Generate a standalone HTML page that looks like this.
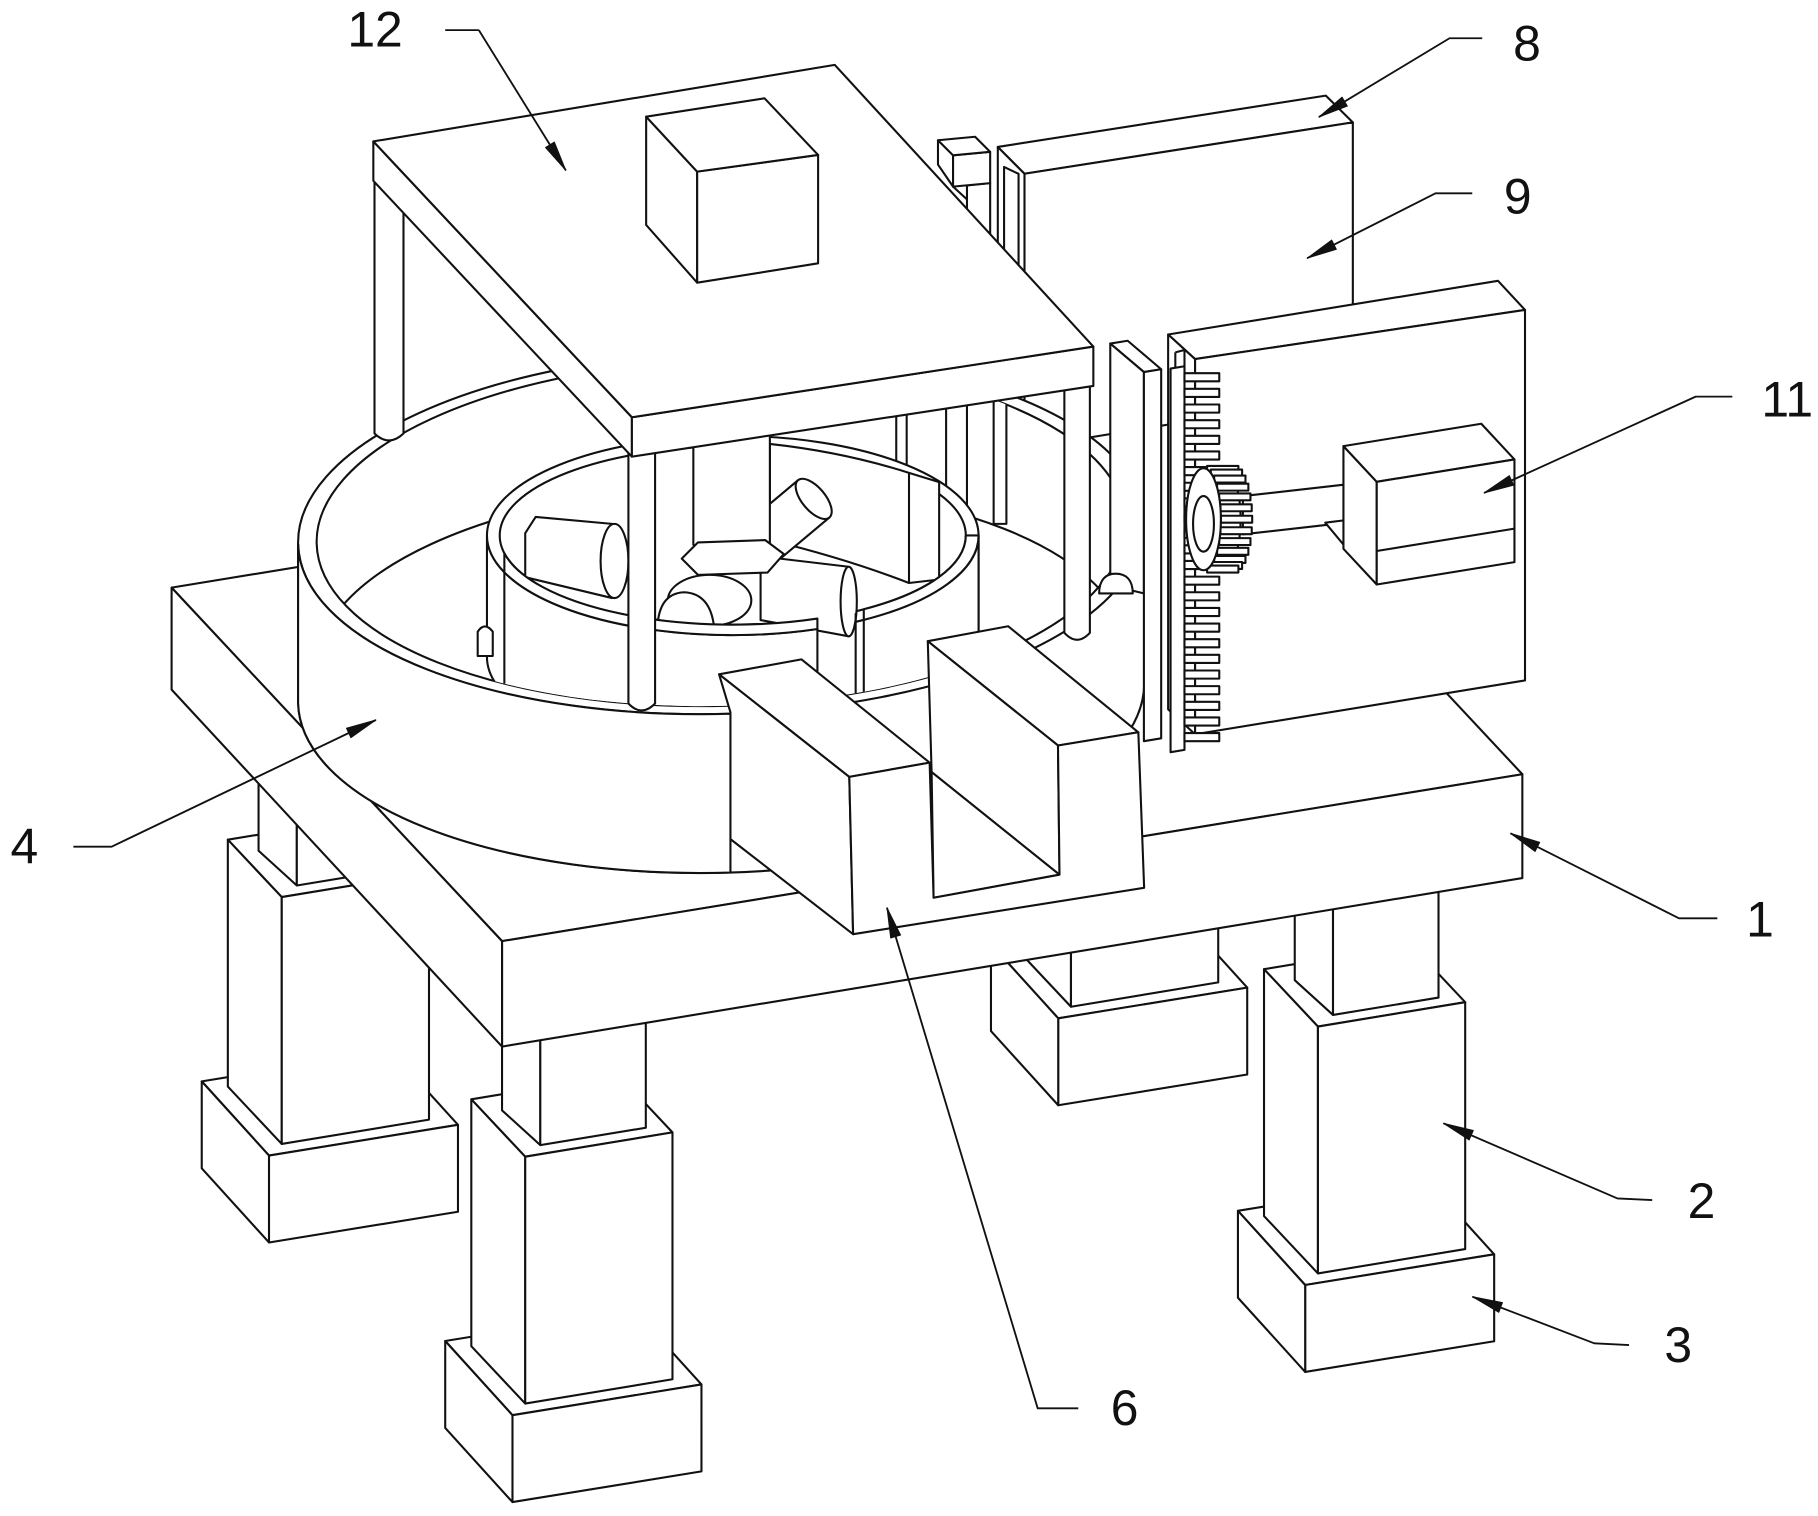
<!DOCTYPE html>
<html><head><meta charset="utf-8"><style>
html,body{margin:0;padding:0;background:#fff;}
svg{display:block;}
text{font-family:"Liberation Sans",Arial,sans-serif;font-size:43px;fill:#111;}
</style></head><body>
<svg xmlns="http://www.w3.org/2000/svg" width="1818" height="1516" viewBox="0 0 1568 1308" preserveAspectRatio="none">
<defs>
<clipPath id="ci"><ellipse cx="622" cy="460" rx="349" ry="149" transform="rotate(-1.5 622 460)"/></clipPath>
<g id="leg">
<polygon points="-69,159 94,132.5 152,196.5 -11,223"/>
<polygon points="-11,223 152,196.5 152,271.5 -11,298"/>
<polygon points="-69,159 -11,223 -11,298 -69,234"/>
<polygon points="-46.5,-49.5 80.5,-70.5 127,-21 0,0"/>
<polygon points="-46.5,-49.5 0,0 0,213 -46.5,163.5"/>
<polygon points="0,0 127,-21 127,192 0,213"/>
<polygon points="-20,-170 13,-140 13,-10 -20,-40"/>
<polygon points="13,-140 104,-155 104,-25 13,-10"/>
</g>
</defs>
<rect x="0" y="0" width="1568" height="1308" fill="#fff"/>
<g fill="#fff" stroke="#111" stroke-width="1.8" stroke-linejoin="round">

<!-- Panel 8/9 -->
<polygon points="860.6,126.8 1143.5,82.5 1166.8,105.6 883.6,149.9"/>
<polygon points="883.6,149.9 1166.8,105.6 1166.8,405 883.6,450"/>
<polygon points="860.6,126.8 883.6,149.9 883.6,450 860.6,427"/>
<polyline points="866,260 866,144 878.5,150 878.5,260" fill="none"/>
<!-- bracket -->
<polygon points="834,160 854,158 854,240 834,240"/>
<polygon points="809,121 822,134 822,161 809,142"/>
<polygon points="822,134 854,131 854,158 822,161"/>
<polygon points="809,121 841,118 854,131 822,134"/>
<line x1="822" y1="161" x2="834" y2="172"/>

<!-- Legs -->
<use href="#leg" transform="translate(243,774)"/>
<use href="#leg" transform="translate(923.7,655.6)"/>
<use href="#leg" transform="translate(453,998)"/>
<use href="#leg" transform="translate(1136.7,885.7)"/>

<!-- Platform 1 -->
<polygon points="148,507 1028,363 1313,668 433,812"/>
<polygon points="433,812 1313,668 1313,757.6 433,903"/>
<polygon points="148,507 433,812 433,903 148,595"/>

<!-- Panel 11 -->
<polygon points="1007.5,288.6 1292,242.3 1315.3,267.4 1030.7,309.8"/>
<polygon points="1030.7,309.8 1315.3,267.4 1315.3,587.1 1030.7,633.5"/>
<polygon points="1007.5,288.6 1030.7,309.8 1030.7,633.5 1007.5,612"/>
<line x1="1013.7" y1="304" x2="1013.7" y2="640"/>
<polyline points="1013.7,304 1021.6,302 1021.6,322" fill="none"/>

<!-- Ring 4 first pass -->
<ellipse cx="622" cy="597" rx="365" ry="156" transform="rotate(-1.5 622 597)"/>
<polygon points="257.1,469.6 986.9,450.4 986.9,587.4 257.1,606.6" stroke="none"/>
<ellipse cx="622" cy="460" rx="365" ry="156" transform="rotate(-1.5 622 460)"/>
<line x1="257.1" y1="469.6" x2="257.1" y2="606.6"/>
<line x1="986.9" y1="450.4" x2="986.9" y2="587.4"/>
<ellipse cx="622" cy="460" rx="349" ry="149" transform="rotate(-1.5 622 460)"/>

<!-- Inner assembly -->
<g clip-path="url(#ci)">
<ellipse cx="622" cy="568" rx="349" ry="149" transform="rotate(-1.5 622 568)" fill="none"/>
<rect x="773" y="340" width="9" height="112"/>
<rect x="816" y="340" width="18" height="112"/>
<rect x="857" y="340" width="11" height="112"/>
<path d="M420,462 A212,86 0 0 0 844,462 L844,567 A212,86 0 0 1 420,567 Z"/>
<ellipse cx="632" cy="462" rx="212" ry="86"/>
<ellipse cx="632" cy="462" rx="201" ry="77"/>
<path d="M664,383 Q728,390 784,408 L810,416 L810,500 L784,503 Q730,482 664,466 Z"/>
<line x1="784" y1="408" x2="784" y2="503"/>
<path d="M462,446 L528,452 L528,516 L453,498 L453,460 Z"/>
<ellipse cx="530" cy="484" rx="12" ry="32"/>
<g transform="translate(688,442) rotate(-40)"><rect x="-44" y="-21" width="62" height="42"/><ellipse cx="18" cy="0" rx="10" ry="21"/></g>
<path d="M656,480 L732,489 L732,549 L656,535 Z"/>
<ellipse cx="732" cy="519" rx="7" ry="30"/>
<path d="M598,370 L598,470 Q631,490 664,470 L664,370 Z"/>
<polygon points="588,482 602,468 660,466 676,478 662,494 602,496"/>
<ellipse cx="612" cy="518" rx="36" ry="22"/>
<path d="M567,542 Q568,512 590,511 Q613,512 616,542 Z"/>
<path d="M435,493.8 A212,86 0 0 0 705,542.7 L705,660 L435,610 Z"/>
<path d="M435,477.3 A201,77 0 0 0 705,533.7 L705,542.7 A212,86 0 0 1 435,493.8 Z"/>
<path d="M745,534.8 A212,86 0 0 0 844,462 L844,567 A212,86 0 0 1 745,639.8 Z"/>
<path d="M745,525.7 A201,77 0 0 0 833,462 L844,462 A212,86 0 0 1 745,534.8 Z"/>
<line x1="738" y1="529" x2="738" y2="620"/>
<path d="M412,566 L412,545 Q418,536 425,545 L425,566 Z"/>
</g>

<!-- Rack column and dome -->
<polygon points="957.6,296.4 972.6,294 1001.5,318.6 986.6,321"/>
<polygon points="957.6,296.4 986.6,321 986.6,512 957.6,505"/>
<polygon points="986.6,321 1001.5,318.6 1001.5,637 986.6,639.5"/>
<path d="M948,512 C948,500 954,495 962,495 C971,495 977,500 977,512 Z"/>

<!-- Rack -->
<polygon points="1009.6,318 1021.6,316 1021.6,647 1009.6,649"/>
<g>
<rect x="1021.6" y="322" width="30" height="7"/><rect x="1021.6" y="335.5" width="30" height="7"/>
<rect x="1021.6" y="349" width="30" height="7"/><rect x="1021.6" y="362.5" width="30" height="7"/>
<rect x="1021.6" y="376" width="30" height="7"/><rect x="1021.6" y="389.5" width="30" height="7"/>
<rect x="1021.6" y="403" width="30" height="7"/><rect x="1021.6" y="416.5" width="30" height="7"/>
<rect x="1021.6" y="430" width="30" height="7"/><rect x="1021.6" y="443.5" width="30" height="7"/>
<rect x="1021.6" y="457" width="30" height="7"/><rect x="1021.6" y="470.5" width="30" height="7"/>
<rect x="1021.6" y="484" width="30" height="7"/><rect x="1021.6" y="497.5" width="30" height="7"/>
<rect x="1021.6" y="511" width="30" height="7"/><rect x="1021.6" y="524.5" width="30" height="7"/>
<rect x="1021.6" y="538" width="30" height="7"/><rect x="1021.6" y="551.5" width="30" height="7"/>
<rect x="1021.6" y="565" width="30" height="7"/><rect x="1021.6" y="578.5" width="30" height="7"/>
<rect x="1021.6" y="592" width="30" height="7"/><rect x="1021.6" y="605.5" width="30" height="7"/>
<rect x="1021.6" y="619" width="30" height="7"/><rect x="1021.6" y="632.5" width="30" height="7"/>
</g>

<!-- Shaft, collar -->
<polygon points="1072,428 1161,418 1161,451 1072,461"/>
<polygon points="1161,416 1172,415 1172,453 1161,452"/>
<ellipse cx="1172" cy="434" rx="6" ry="19"/>

<!-- Gear -->
<ellipse cx="1055" cy="448" rx="15" ry="44"/>
<rect x="1041.1" y="402" width="27" height="6"/>
<rect x="1044.3" y="405.1" width="27" height="6"/>
<rect x="1047.2" y="410.3" width="27" height="6"/>
<rect x="1049.7" y="417.3" width="27" height="6"/>
<rect x="1051.5" y="425.7" width="27" height="6"/>
<rect x="1052.6" y="435.1" width="27" height="6"/>
<rect x="1053" y="445" width="27" height="6"/>
<rect x="1052.6" y="454.9" width="27" height="6"/>
<rect x="1051.5" y="464.3" width="27" height="6"/>
<rect x="1049.7" y="472.7" width="27" height="6"/>
<rect x="1047.2" y="479.7" width="27" height="6"/>
<rect x="1044.3" y="484.9" width="27" height="6"/>
<rect x="1041.1" y="488" width="27" height="6"/>
<ellipse cx="1038" cy="448" rx="15" ry="44"/>
<ellipse cx="1038" cy="452" rx="9" ry="24"/>

<!-- Motor 11 -->
<polygon points="1143,451 1159,449 1187.4,475.4 1187.4,504.3"/>
<polygon points="1158.7,384.9 1187.4,415.7 1187.4,504.3 1158.7,473.5"/>
<polygon points="1158.7,384.9 1277.6,365.6 1306.2,396.4 1187.4,415.7"/>
<polygon points="1187.4,415.7 1306.2,396.4 1306.2,485 1187.4,504.3"/>
<line x1="1187.4" y1="475.4" x2="1306.2" y2="456.1"/>

<!-- Block 6 -->
<polygon points="800.2,553.2 869.5,540.3 981.8,631.8 912.5,643.2"/>
<polygon points="800.2,553.2 912.5,643.2 913.8,754.7 803.5,666.1"/>
<polygon points="803.5,666.1 913.8,754.7 805.2,774.6"/>
<polygon points="620.2,581.8 691.2,568.9 801.8,658 732.5,670.3"/>
<polygon points="620.2,581.8 732.5,670.3 735.8,806 630,724 630,614.6"/>
<polygon points="732.5,670.3 801.8,658 805.2,774.6 913.8,754.7 912.5,643.2 981.8,631.8 986.8,766 735.8,806"/>

<!-- Ring front-left wall redraw -->
<path d="M257.1,469.6 A365,156 -1.5 0 0 630,615.8 L630,752.8 A365,156 -1.5 0 1 257.1,606.6 Z"/>

<!-- Table legs -->
<path d="M323,150 L323,374 Q335.5,386 348,374 L348,150 Z"/>
<path d="M542,380 L542,607 Q553.5,619 565,607 L565,380 Z"/>
<path d="M918,320 L918,546 Q929,558 940,546 L940,320 Z"/>

<!-- Table 12 -->
<polygon points="322,122 545,360 545,394 322,156"/>
<polygon points="545,360 943,299 943,333 545,394"/>
<polygon points="322,122 720,56 943,299 545,360"/>
<!-- Box on table -->
<polygon points="557.3,100.7 601.3,148.1 601.3,243.9 557.3,194.1"/>
<polygon points="601.3,148.1 705.6,133.7 705.6,227.2 601.3,243.9"/>
<polygon points="557.3,100.7 659.4,84.8 705.6,133.7 601.3,148.1"/>
</g>

<!-- Leaders -->
<g fill="none" stroke="#111" stroke-width="1.6" stroke-linejoin="round">
<polyline points="413,26 384,26"/><line x1="413" y1="26" x2="488" y2="147"/>
<polyline points="1278.4,33 1250.2,33 1137.5,101"/>
<polyline points="1269.8,166.8 1238.1,166.8 1127.4,222.8"/>
<polyline points="1494.1,342.2 1462.5,342.2 1280,425.3"/>
<polyline points="1481.2,792.3 1448.1,792.3 1302.8,719"/>
<polyline points="1425,1035.4 1395,1034 1245,969.2"/>
<polyline points="1405,1160.5 1375,1159 1270,1118.8"/>
<polyline points="930,1215.1 895,1215.1 765,783.2"/>
<polyline points="63.3,730.5 96.3,730.5 324.2,621.2"/>
</g>
<g fill="#111" stroke="#111" stroke-width="0.8" stroke-linejoin="round">
<polygon points="488,147 470.5,127.3 478.1,122.5"/>
<polygon points="1137.5,101 1157.5,83.8 1162.1,91.5"/>
<polygon points="1127.4,222.8 1148.6,207.1 1152.6,215.1"/>
<polygon points="1280,425.3 1301.8,410.4 1305.6,418.6"/>
<polygon points="1302.8,719 1328,726.7 1324,734.7"/>
<polygon points="1245,969.2 1270.7,975.4 1267.1,983.6"/>
<polygon points="1270,1118.8 1295.9,1123.9 1292.7,1132.3"/>
<polygon points="765,783.2 776.8,806.8 768.2,809.4"/>
<polygon points="324.2,621.2 302.6,636.5 298.8,628.3"/>
</g>

<!-- Labels -->
<text x="323.5" y="40" text-anchor="middle">12</text>
<text x="1317" y="52" text-anchor="middle">8</text>
<text x="1309" y="184" text-anchor="middle">9</text>
<text x="1541.5" y="359.5" text-anchor="middle">11</text>
<text x="1518" y="808" text-anchor="middle">1</text>
<text x="1467.5" y="1051" text-anchor="middle">2</text>
<text x="1447.5" y="1175" text-anchor="middle">3</text>
<text x="970" y="1229.5" text-anchor="middle">6</text>
<text x="21" y="745" text-anchor="middle">4</text>
</svg>
</body></html>
